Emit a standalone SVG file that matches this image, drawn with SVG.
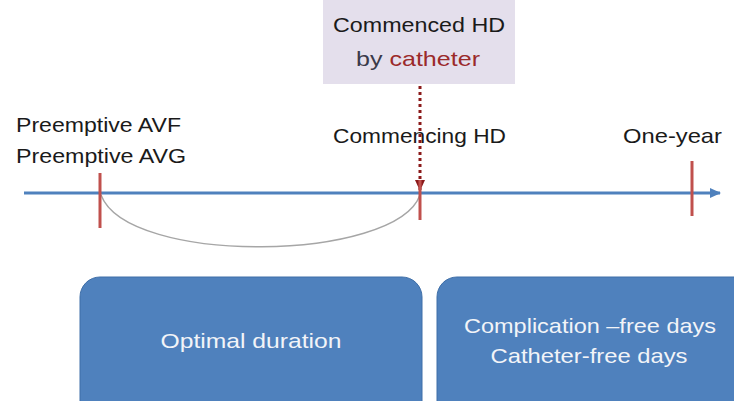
<svg xmlns="http://www.w3.org/2000/svg" width="734" height="401" viewBox="0 0 734 401">
  <style>
    .lbl { font-family: "Liberation Sans", Arial, sans-serif; font-size: 21px; fill: #1a1a1a; }
    .box-txt { font-family: "Liberation Sans", Arial, sans-serif; font-size: 21px; fill: #f2f4f8; text-anchor: middle; }
    .tick { stroke: #c0504d; stroke-width: 3; }
    .box { fill: #4f81bd; stroke: #3f6fa8; stroke-width: 1; }
  </style>
  <defs>
    <marker id="axisHead" markerWidth="12" markerHeight="12" refX="10" refY="6" orient="auto" markerUnits="userSpaceOnUse">
      <path d="M0,1 L11,6 L0,11 Z" fill="#4f81bd"/>
    </marker>
    <marker id="dropHead" markerWidth="12" markerHeight="12" refX="10" refY="6" orient="auto" markerUnits="userSpaceOnUse">
      <path d="M0,1 L11,6 L0,11 Z" fill="#8b1a1a"/>
    </marker>
  </defs>

  <rect width="734" height="401" fill="#ffffff"/>

  <g id="catheter-note">
    <rect x="323" y="0" width="192" height="84" fill="#e4dfec"/>
    <text class="lbl" x="419" y="32" text-anchor="middle" textLength="172" lengthAdjust="spacingAndGlyphs" fill="#3a3a4a">Commenced HD</text>
    <text class="lbl" x="356" y="66" textLength="124" lengthAdjust="spacingAndGlyphs"><tspan fill="#3a3a4a">by </tspan><tspan fill="#9b2a2a">catheter</tspan></text>
  </g>

  <g id="connectors">
    <!-- timeline axis -->
    <line x1="24" y1="193" x2="720" y2="193" stroke="#4f81bd" stroke-width="3" marker-end="url(#axisHead)"/>
    <!-- span between access creation and start of HD -->
    <path d="M101,195 C128,266 396,262 420,195" fill="none" stroke="#a6a6a6" stroke-width="1.5"/>
    <!-- catheter drop -->
    <line x1="420" y1="86" x2="420" y2="190" stroke="#8b1a1a" stroke-width="3" stroke-dasharray="3,3" marker-end="url(#dropHead)"/>
  </g>

  <g id="tick-preemptive">
    <line class="tick" x1="100" y1="173" x2="100" y2="228"/>
    <text class="lbl" x="16" y="132" textLength="165" lengthAdjust="spacingAndGlyphs">Preemptive AVF</text>
    <text class="lbl" x="16" y="163" textLength="170" lengthAdjust="spacingAndGlyphs">Preemptive AVG</text>
  </g>

  <g id="tick-commencing">
    <line class="tick" x1="420" y1="180" x2="420" y2="220"/>
    <text class="lbl" x="333" y="143" textLength="173" lengthAdjust="spacingAndGlyphs">Commencing HD</text>
  </g>

  <g id="tick-one-year">
    <line class="tick" x1="692" y1="161" x2="692" y2="216"/>
    <text class="lbl" x="623" y="143" textLength="99" lengthAdjust="spacingAndGlyphs">One-year</text>
  </g>

  <g id="optimal-duration">
    <rect class="box" x="80" y="277" width="342" height="150" rx="20" ry="20"/>
    <text class="box-txt" x="251" y="348" textLength="181" lengthAdjust="spacingAndGlyphs">Optimal duration</text>
  </g>

  <g id="free-days">
    <rect class="box" x="437" y="277" width="320" height="150" rx="20" ry="20"/>
    <text class="box-txt" x="590" y="333" textLength="252" lengthAdjust="spacingAndGlyphs">Complication –free days</text>
    <text class="box-txt" x="589" y="363" textLength="197" lengthAdjust="spacingAndGlyphs">Catheter-free days</text>
  </g>
</svg>
